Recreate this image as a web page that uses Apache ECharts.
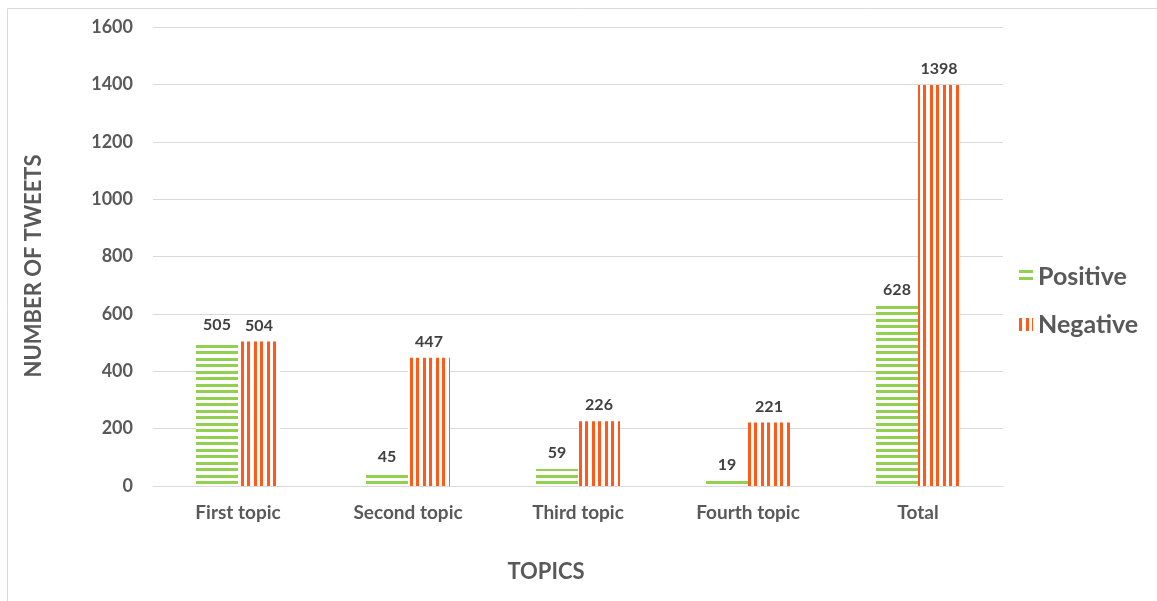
<!DOCTYPE html>
<html>
<head>
<meta charset="utf-8">
<script src="https://cdn.jsdelivr.net/npm/echarts@6/dist/echarts.min.js"></script>
<style>
  html, body { margin: 0; padding: 0; background: #fff; }
  #chart { width: 1157px; height: 601px; }
</style>
</head>
<body>
<div id="chart"></div>
<script>
// Tweet counts per topic by sentiment
const categories = ['First topic', 'Second topic', 'Third topic', 'Fourth topic', 'Total'];
const positive = [505, 45, 59, 19, 628];
const negative = [504, 447, 226, 221, 1398];
const yTicks = [0, 200, 400, 600, 800, 1000, 1200, 1400, 1600];

const GREEN = '#92D050';
const ORANGE = '#FF5A1A';
const FONT = 'Lato, "Open Sans", sans-serif';
const TEXT = '#595959';

// Striped fills: horizontal lines for Positive, vertical lines for Negative
function stripePattern(color, vertical) {
  const c = document.createElement('canvas');
  c.width = 13; c.height = 13;
  const ctx = c.getContext('2d');
  ctx.fillStyle = '#fff';
  ctx.fillRect(0, 0, 13, 13);
  ctx.fillStyle = color;
  if (vertical) {
    ctx.fillRect(0, 0, 3, 13);
    ctx.fillRect(7, 0, 3, 13);
  } else {
    ctx.fillRect(0, 0, 13, 3);
    ctx.fillRect(0, 7, 13, 3);
  }
  return { image: c, repeat: 'repeat' };
}

const chart = echarts.init(document.getElementById('chart'), null, { renderer: 'canvas' });

const labelStyle = {
  show: true,
  position: 'top',
  distance: 8,
  fontFamily: FONT,
  fontWeight: 'bold',
  fontSize: 16,
  color: '#404040'
};

const titleStyle = { fontFamily: FONT, fontWeight: 'bold', fontSize: 22, fill: TEXT };

chart.setOption({
  animation: false,
  backgroundColor: '#fff',
  graphic: [
    {
      // outer chart frame
      type: 'rect',
      shape: { x: 7.5, y: 8.5, width: 1300, height: 800 },
      style: { fill: 'none', stroke: '#d9d9d9', lineWidth: 1 },
      silent: true,
      z: -1
    },
    {
      // value axis title
      type: 'text',
      x: 34, y: 266,
      rotation: Math.PI / 2,
      style: Object.assign({ text: 'NUMBER OF TWEETS', align: 'center', verticalAlign: 'middle' }, titleStyle)
    },
    {
      // category axis title
      type: 'text',
      x: 546, y: 572,
      style: Object.assign({ text: 'TOPICS', align: 'center', verticalAlign: 'middle' }, titleStyle)
    }
  ],
  grid: { left: 153, right: 154, top: 27, bottom: 115 },
  legend: {
    orient: 'vertical',
    left: 1014,
    top: 259,
    itemWidth: 14,
    itemHeight: 13,
    itemGap: 23,
    icon: 'rect',
    textStyle: { fontFamily: FONT, fontWeight: 'bold', fontSize: 25, color: TEXT },
    data: ['Positive', 'Negative']
  },
  xAxis: {
    type: 'category',
    data: categories,
    axisLine: { show: true, lineStyle: { color: '#d9d9d9', width: 1 } },
    axisTick: { show: false },
    axisLabel: { fontFamily: FONT, fontWeight: 'bold', fontSize: 19, color: TEXT, margin: 17 }
  },
  yAxis: {
    type: 'value',
    min: 0,
    max: 1600,
    interval: 200,
    axisLine: { show: false },
    axisTick: { show: false },
    splitLine: { lineStyle: { color: '#d9d9d9', width: 1 } },
    axisLabel: {
      fontFamily: FONT, fontWeight: 'bold', fontSize: 18, color: TEXT, margin: 20,
      formatter: v => (yTicks.includes(v) ? String(v) : '')
    }
  },
  series: [
    {
      name: 'Positive',
      type: 'bar',
      data: positive,
      barWidth: 42,
      barGap: '0%',
      itemStyle: { color: stripePattern(GREEN, false) },
      label: labelStyle
    },
    {
      name: 'Negative',
      type: 'bar',
      data: negative,
      barWidth: 42,
      barGap: '0%',
      itemStyle: { color: stripePattern(ORANGE, true) },
      label: labelStyle
    }
  ]
});
</script>
</body>
</html>
